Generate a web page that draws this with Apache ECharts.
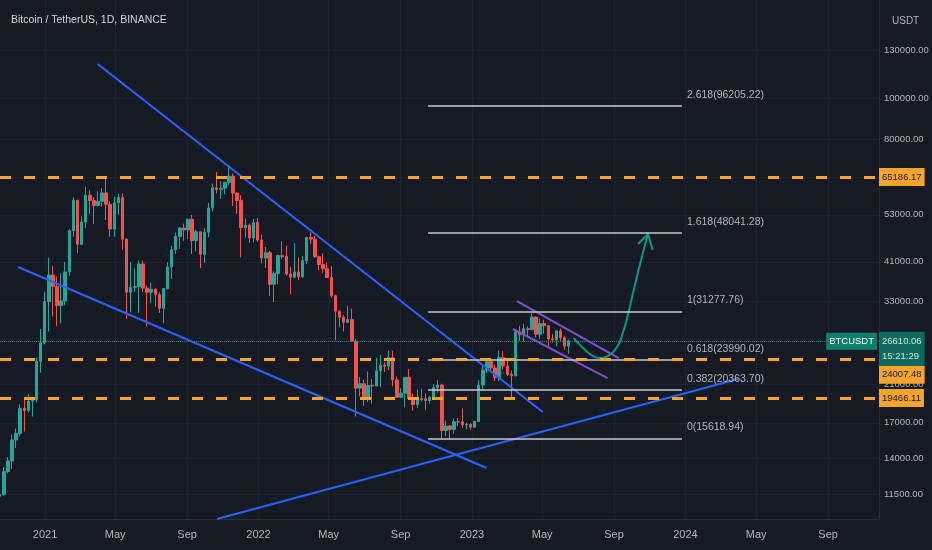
<!DOCTYPE html>
<html><head><meta charset="utf-8">
<script src="https://cdn.jsdelivr.net/npm/echarts@6/dist/echarts.min.js"></script>
<style>html,body{margin:0;padding:0;background:#161a25}#c{width:932px;height:550px}</style>
</head><body><div id="c"></div>
<script>
// ---------- DATA ----------
const weeks2020 = ['2020-10-12','2020-10-19','2020-10-26','2020-11-02','2020-11-09','2020-11-16','2020-11-23','2020-11-30','2020-12-07','2020-12-14','2020-12-21','2020-12-28'];
const ohlc2020 = [[11380,11500,11200,11720],[11500,13030,11400,13350],[13030,13800,12900,14100],[13800,15480,13200,15960],[15480,16050,14800,16480],[16050,18400,15800,18800],[18400,18180,16200,19500],[18180,19150,18000,19900],[19150,19270,17600,19420],[19270,23800,19000,24300],[23800,26300,22350,28400],[26300,33000,26100,34800]];

const weeks2021 = ['2021-01-04','2021-01-11','2021-01-18','2021-01-25','2021-02-01','2021-02-08','2021-02-15','2021-02-22','2021-03-01','2021-03-08','2021-03-15','2021-03-22','2021-03-29','2021-04-05','2021-04-12','2021-04-19','2021-04-26','2021-05-03','2021-05-10','2021-05-17','2021-05-24','2021-05-31','2021-06-07','2021-06-14','2021-06-21','2021-06-28','2021-07-05','2021-07-12','2021-07-19','2021-07-26','2021-08-02','2021-08-09','2021-08-16','2021-08-23','2021-08-30','2021-09-06','2021-09-13','2021-09-20','2021-09-27','2021-10-04','2021-10-11','2021-10-18','2021-10-25','2021-11-01','2021-11-08','2021-11-15','2021-11-22','2021-11-29','2021-12-06','2021-12-13','2021-12-20','2021-12-27'];
const ohlc2021 = [[33000,38150,28000,41950],[38150,35800,30400,40100],[35800,32250,28850,37850],[32250,33100,29250,38500],[33100,38800,32300,40950],[38800,48600,37950,49000],[48600,57400,47000,58350],[57400,45100,43000,57500],[45100,50950,45000,52600],[50950,59000,49300,61800],[59000,57350,53300,60600],[57350,55800,50400,58400],[55800,57050,55500,60200],[57050,59750,55400,61300],[59750,56150,51500,64850],[56150,49050,47000,57000],[49050,56600,47000,58450],[56600,58250,53000,59500],[58250,46400,43800,59600],[46400,34700,30000,46600],[34700,35650,31100,40900],[35650,35800,34800,39500],[35800,40500,31000,41300],[40500,35500,34800,41300],[35500,34700,28800,36000],[34700,35300,32700,36600],[35300,34250,32100,35450],[34250,31800,31000,34700],[31800,35400,29300,35500],[35400,39850,35200,40900],[39850,43800,37300,44700],[43800,47100,42800,48150],[47100,49300,43950,49500],[49300,48800,46000,50500],[48800,51750,46400,51900],[51750,46050,42800,52950],[46050,48300,43400,48850],[48300,42700,39600,48400],[42700,48200,40750,49200],[48200,55000,46900,56600],[55000,61500,54000,62900],[61500,60900,59500,67000],[60900,61300,57800,63700],[61300,63300,59300,63500],[63300,65500,62300,69000],[65500,59700,55600,66300],[59700,57300,53250,59900],[57300,49400,42000,59000],[49400,50100,46800,51950],[50100,46700,45500,50500],[46700,50800,45600,51800],[50800,46200,45700,52100]];

const weeks2022 = ['2022-01-03','2022-01-10','2022-01-17','2022-01-24','2022-01-31','2022-02-07','2022-02-14','2022-02-21','2022-02-28','2022-03-07','2022-03-14','2022-03-21','2022-03-28','2022-04-04','2022-04-11','2022-04-18','2022-04-25','2022-05-02','2022-05-09','2022-05-16','2022-05-23','2022-05-30','2022-06-06','2022-06-13','2022-06-20','2022-06-27','2022-07-04','2022-07-11','2022-07-18','2022-07-25','2022-08-01','2022-08-08','2022-08-15','2022-08-22','2022-08-29','2022-09-05','2022-09-12','2022-09-19','2022-09-26','2022-10-03','2022-10-10','2022-10-17','2022-10-24','2022-10-31','2022-11-07','2022-11-14','2022-11-21','2022-11-28','2022-12-05','2022-12-12','2022-12-19','2022-12-26'];
const ohlc2022 = [[46200,41850,40600,47550],[41850,43100,39650,44450],[43100,36250,34000,43500],[36250,38450,32900,38900],[38450,42400,36250,42650],[42400,42200,41650,45850],[42200,38350,38000,44750],[38350,37700,34300,39850],[37700,38800,37450,45400],[38800,37800,37100,42000],[37800,41250,37550,42350],[41250,46850,40500,46900],[46850,46400,45150,48200],[46400,42150,41900,47200],[42150,40400,39200,42400],[40400,39450,38550,42950],[39450,37650,37550,40800],[37650,34050,33700,40000],[34050,31300,26700,34250],[31300,30280,28650,31450],[30280,29450,28000,30650],[29450,29900,29300,32250],[29900,26570,26500,31750],[26570,20550,17600,26900],[20550,21050,19650,21850],[21050,19300,18650,21500],[19300,20850,19050,22500],[20850,20800,18900,21600],[20800,22600,20750,24250],[22600,23300,20700,24650],[23300,23170,22450,23650],[23170,24300,22650,25200],[24300,21500,20750,25200],[21500,19550,19500,21900],[19550,19990,19500,20550],[19990,21800,18500,21850],[21800,19420,19350,22800],[19420,18800,18150,19950],[18800,19300,18450,20400],[19300,19400,19100,20500],[19400,19200,18200,19950],[19200,19550,18900,19700],[19550,20600,19250,21000],[20600,20900,20050,21480],[20900,16300,15600,21050],[16300,16700,15800,17200],[16700,16400,15480,16800],[16400,17100,16000,17400],[17100,17090,16700,17450],[17090,16800,16550,18400],[16800,16850,16400,17000],[16850,16600,16350,16950]];

const weeks2023 = ['2023-01-02','2023-01-09','2023-01-16','2023-01-23','2023-01-30','2023-02-06','2023-02-13','2023-02-20','2023-02-27','2023-03-06','2023-03-13','2023-03-20','2023-03-27','2023-04-03','2023-04-10','2023-04-17','2023-04-24','2023-05-01','2023-05-08','2023-05-15','2023-05-22','2023-05-29','2023-06-05','2023-06-12'];
const ohlc2023 = [[16600,17120,16550,17200],[17120,20900,17100,21500],[20900,22700,20400,23350],[22700,23750,22300,23950],[23750,22950,22500,24250],[22950,21800,21350,23350],[21800,24300,21350,25250],[24300,23200,22750,25150],[23200,22150,21950,23900],[22150,22000,19550,22600],[22000,27950,21900,28400],[27950,27500,26600,28900],[27500,28450,26500,29200],[28450,28300,27200,28800],[28300,30300,28200,31000],[30300,27600,27100,30450],[27600,29250,26950,30000],[29250,28900,27650,29850],[28900,26900,25800,29000],[26900,26750,26350,27650],[26750,28100,25850,28200],[28100,27100,26600,28450],[27100,25850,25350,27350],[25850,26610,24800,26800]];

// price levels
const levelPrices = [65186.17, 24007.48, 19466.11];
const lastPrice = 26610.06;
const lastTicker = 'BTCUSDT';
const countdown = '15:21:29';

// fibonacci extension
const fibRatios = ['2.618','1.618','1','0.618','0.382','0'];
const fibPrices = [96205.22, 48041.28, 31277.76, 23990.02, 20363.70, 15618.94];
const fibRange = ['2022-10-18', '2023-12-26'];

// drawings (date, price)
const upperTrend = [['2021-04-01', 120900], ['2023-05-02', 18035]];
const lowerTrend = [['2020-11-16', 39850], ['2023-01-26', 13278]];
const risingTrend = [['2021-10-22', 10050], ['2024-03-31', 21600]];
const channelTop = [['2023-03-19', 33087], ['2023-09-09', 24225]];
const channelBottom = [['2023-03-12', 28391], ['2023-08-21', 21718]];
const projection = [['2023-06-24',27028],['2023-07-10',25590],['2023-07-27',24490],['2023-08-08',24225],['2023-08-21',24490],['2023-09-06',25730],['2023-09-16',27775],['2023-09-25',30820],['2023-10-03',34380],['2023-10-15',40285],['2023-10-29',47730]];
const arrowHead = [['2023-10-12',45190],['2023-10-29',47730],['2023-11-06',43730]];

// axes
const xRange = ['2020-10-16', '2024-11-27'];
const xTickDates = ['2021-01-01','2021-05-01','2021-09-01','2022-01-01','2022-05-01','2022-09-01','2023-01-01','2023-05-01','2023-09-01','2024-01-01','2024-05-01','2024-09-01'];
const yRange = [10048, 171540];
const yTickLabels = [11500, 14000, 17000, 21000, 33000, 41000, 53000, 80000, 100000, 130000];
const yGridValues = [11500, 14000, 17000, 21000, 27000, 33000, 41000, 53000, 65000, 80000, 100000, 130000];
const monthNames = ['Jan','Feb','Mar','Apr','May','Jun','Jul','Aug','Sep','Oct','Nov','Dec'];

// ---------- BUILD ----------
const FONT = "'Liberation Sans Narrow','Liberation Sans',Arial,sans-serif";
const DAY = 86400000;
const UP = '#26a69a', DOWN = '#ef5350', ORANGE = '#f7a42b', BLUE = '#2962ff', PURPLE = '#7e4fd2', TEAL = '#089981', BADGE = '#0b7f6b';
const ts = s => new Date(s + 'T00:00:00Z').getTime();
const pts = arr => arr.map(p => [ts(p[0]), p[1]]);
function toCandles(weeks, rows) {
  return weeks.map((w, i) => [ts(w) + 3.5 * DAY].concat(rows[i]));
}
const candles = [].concat(
  toCandles(weeks2020, ohlc2020), toCandles(weeks2021, ohlc2021),
  toCandles(weeks2022, ohlc2022), toCandles(weeks2023, ohlc2023));

const levelShift = {1: 15};
const markData = [];
fibRatios.forEach((r, i) => markData.push([
  {coord: [ts(fibRange[0]), fibPrices[i]],
   lineStyle: {color: '#c5c8d0', width: 1.5, type: 'solid'},
   label: {show: true, position: 'end', distance: 5, offset: [0, -11],
     formatter: r + '(' + fibPrices[i].toFixed(2) + ')', color: '#b2b5be', fontSize: 10.5, fontFamily: FONT}},
  {coord: [ts(fibRange[1]), fibPrices[i]]}
]));
levelPrices.forEach((v, i) => markData.push({
  yAxis: v,
  lineStyle: {color: ORANGE, type: [11, 13], width: 3},
  label: {show: true, position: 'end', distance: 0, formatter: v.toFixed(2),
    backgroundColor: ORANGE, color: '#131722', padding: [4, 3, 4, 3], fontSize: 9.5,
    fontFamily: FONT, offset: [0, levelShift[i] || 0]}
}));
markData.push({
  yAxis: lastPrice,
  lineStyle: {color: TEAL, type: 'dotted', width: 1, opacity: 0.8},
  label: {show: true, position: 'end', distance: 0, formatter: lastPrice.toFixed(2) + '\n' + countdown,
    backgroundColor: BADGE, color: '#ffffff', padding: [2, 3, 2, 3], lineHeight: 15,
    fontSize: 9.5, fontFamily: FONT, offset: [0, 8]}
});
markData.push({
  yAxis: lastPrice,
  lineStyle: {color: 'rgba(0,0,0,0)', width: 0},
  label: {show: true, position: 'insideEndTop', distance: [2, 0], formatter: lastTicker,
    backgroundColor: BADGE, color: '#ffffff', padding: [4, 3, 3, 3],
    fontSize: 9.5, fontFamily: FONT, offset: [0, 9]}
});

function lineSeries(data, color, extra) {
  return Object.assign({type: 'line', data: pts(data), symbol: 'none', showSymbol: false, silent: true,
    animation: false, lineStyle: {color: color, width: 2}, z: 4}, extra || {});
}

const chart = echarts.init(document.getElementById('c'), null, {renderer: 'canvas'});
chart.setOption({
  backgroundColor: '#161a25',
  animation: false,
  title: [
    {text: 'Bitcoin / TetherUS, 1D, BINANCE', left: 6, top: 10,
     textStyle: {color: '#d1d4dc', fontSize: 10.5, fontWeight: 'normal', fontFamily: FONT}},
    {text: 'USDT', left: 887, top: 11,
     textStyle: {color: '#b2b5be', fontSize: 10, fontWeight: 'normal', fontFamily: FONT}}
  ],
  grid: {left: 0, right: 53, top: 0, bottom: 31, containLabel: false, outerBoundsMode: 'none'},
  xAxis: {
    type: 'value', min: ts(xRange[0]), max: ts(xRange[1]),
    axisLine: {show: true, onZero: false, lineStyle: {color: '#2a2e39'}},
    axisTick: {show: false, customValues: xTickDates.map(ts)},
    axisLabel: {customValues: xTickDates.map(ts), color: '#b2b5be', fontSize: 11, fontFamily: FONT, margin: 10,
      formatter: function (v) { const d = new Date(v); return d.getUTCMonth() === 0 ? String(d.getUTCFullYear()) : monthNames[d.getUTCMonth()]; }},
    splitLine: {show: true, lineStyle: {color: '#1e222d'}}
  },
  yAxis: {
    type: 'log', logBase: 10, min: yRange[0], max: yRange[1], position: 'right',
    axisLine: {show: true, lineStyle: {color: '#2a2e39'}},
    axisTick: {show: false, customValues: yGridValues},
    axisLabel: {customValues: yTickLabels, color: '#b2b5be', fontSize: 9.5, fontFamily: FONT, margin: 5,
      formatter: function (v) { return Number(v).toFixed(2); }},
    splitLine: {show: true, lineStyle: {color: '#1e222d'}}
  },
  series: [
    {
      type: 'candlestick', data: candles,
      dimensions: ['date', 'open', 'close', 'lowest', 'highest'],
      encode: {x: 'date', y: ['open', 'close', 'lowest', 'highest']},
      barWidth: 3, silent: true, z: 2,
      itemStyle: {color: UP, color0: DOWN, borderColor: UP, borderColor0: DOWN, borderWidth: 1},
      markLine: {symbol: ['none', 'none'], silent: true, animation: false, data: markData}
    },
    lineSeries(upperTrend, BLUE),
    lineSeries(lowerTrend, BLUE),
    lineSeries(risingTrend, BLUE),
    lineSeries(channelTop, PURPLE),
    lineSeries(channelBottom, PURPLE),
    lineSeries(projection, TEAL, {smooth: 0.5}),
    lineSeries(arrowHead, TEAL)
  ]
});
</script></body></html>
